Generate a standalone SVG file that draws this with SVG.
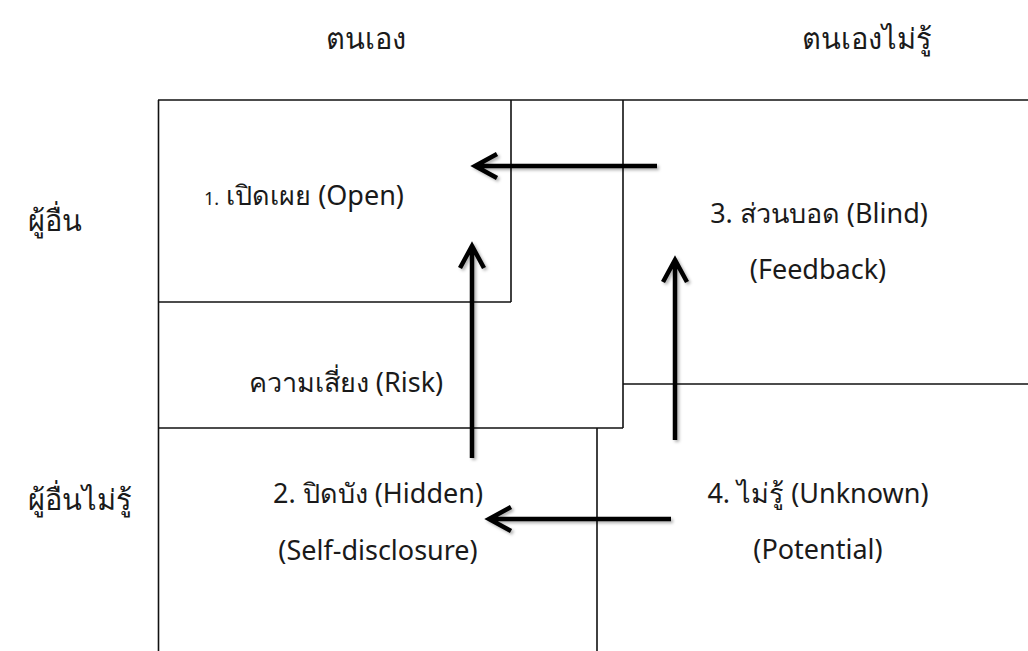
<svg xmlns="http://www.w3.org/2000/svg" width="1028" height="651" viewBox="0 0 1028 651">
<defs>
<style>
.ln{stroke:#111;stroke-width:1.6;fill:none}
.t{font-family:"Noto Sans","DejaVu Sans",sans-serif;font-size:27px;fill:#1a1a1a}
.h{font-size:29px}
.c{text-anchor:middle}
.ar{stroke:#000;stroke-width:4.5;fill:none;stroke-linejoin:miter}
</style>
<filter id="sh" x="-20%" y="-20%" width="140%" height="140%">
<feDropShadow dx="2" dy="2" stdDeviation="1.5" flood-color="#000" flood-opacity="0.3"/>
</filter>
</defs>
<rect width="1028" height="651" fill="#fff"/>
<g id="headers">
<text class="t h c" x="366" y="49">ตนเอง</text>
<text class="t h c" x="867" y="49">ตนเองไม่รู้</text>
<text class="t h" x="28" y="231">ผู้อื่น</text>
<text class="t h" x="28" y="510">ผู้อื่นไม่รู้</text>
</g>
<g id="grid">
<line class="ln" x1="158" y1="100" x2="1028" y2="100"/>
<line class="ln" x1="158.5" y1="100" x2="158.5" y2="651"/>
<line class="ln" x1="511" y1="100" x2="511" y2="302"/>
<line class="ln" x1="158" y1="302" x2="511" y2="302"/>
<line class="ln" x1="623" y1="100" x2="623" y2="428"/>
<line class="ln" x1="158" y1="428" x2="623" y2="428"/>
<line class="ln" x1="623" y1="384" x2="1028" y2="384"/>
<line class="ln" x1="597" y1="428" x2="597" y2="651"/>
</g>
<g id="open">
<text class="t" x="204" y="205"><tspan font-size="18">1.</tspan> เปิดเผย (Open)</text>
</g>
<g id="risk">
<text class="t c" x="346" y="392">ความเสี่ยง (Risk)</text>
</g>
<g id="blind">
<text class="t c" x="819" y="223">3. ส่วนบอด (Blind)</text>
<text class="t c" x="818" y="279">(Feedback)</text>
</g>
<g id="hidden">
<text class="t c" x="378" y="503">2. ปิดบัง (Hidden)</text>
<text class="t c" x="378" y="560">(Self-disclosure)</text>
</g>
<g id="unknown">
<text class="t c" x="818" y="503">4. ไม่รู้ (Unknown)</text>
<text class="t c" x="818" y="559">(Potential)</text>
</g>
<g id="connectors" filter="url(#sh)">
<path class="ar" d="M657,166 L476,166 M497,154 L475,166 L497,178"/>
<path class="ar" d="M472,458 L472,248 M460,268 L472,246 L484,268"/>
<path class="ar" d="M675,440 L675,262 M663,282 L675,260 L687,282"/>
<path class="ar" d="M671,519 L490,519 M511,507 L489,519 L511,531"/>
</g>
</svg>
